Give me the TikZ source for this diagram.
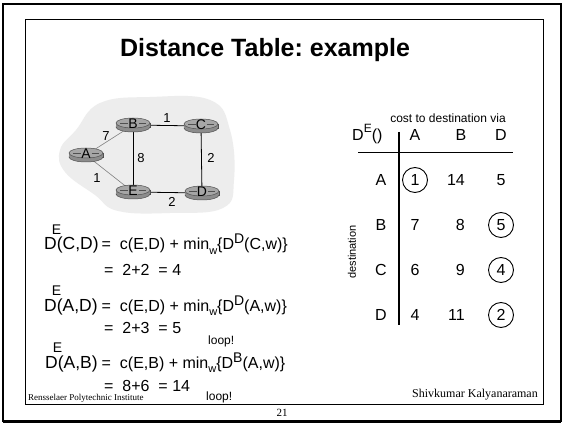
\documentclass[tikz,border=0pt]{standalone}
\usepackage{fontspec}
\setmainfont{Liberation Sans}
\newfontfamily\serifface{Liberation Serif}
\usetikzlibrary{calc}
\frenchspacing
\newcommand{\fsz}[1]{\fontsize{#1}{#1}\selectfont}
\definecolor{blobgray}{HTML}{EDEDED}
\definecolor{rtrside}{HTML}{8C8C8C}
\definecolor{rtrtop}{HTML}{A6A6A6}
\definecolor{rtredge}{HTML}{505050}
\newcommand{\drawrouter}[1]{%
  \fill[rtrside,draw=rtredge,line width=0.5pt] ($(#1)+(-17,-2)$) rectangle ($(#1)+(17,2)$);
  \fill[rtrside,draw=rtredge,line width=0.5pt] ($(#1)+(0,2)$) ellipse [x radius=17, y radius=5];
  \fill[rtrside] ($(#1)+(-16.7,-2)$) rectangle ($(#1)+(16.7,2)$);
  \fill[rtrtop,draw=rtredge,line width=0.5pt] ($(#1)+(0,-2)$) ellipse [x radius=17, y radius=5];
  \draw[rtredge,line width=0.6pt] ($(#1)+(-13,-2)$) -- ($(#1)+(-5.5,-2)$);
  \draw[rtredge,line width=0.6pt] ($(#1)+(5.5,-2)$) -- ($(#1)+(13,-2)$);
}
\begin{document}
\begin{tikzpicture}[x=1pt,y=-1pt,
  frameline/.style={line width=2pt},
  link/.style={line width=0.8pt,black},
  thinlink/.style={line width=0.6pt,gray},
  rlabel/.style={font=\fsz{14}, inner sep=0pt},
  elabel/.style={font=\fsz{13}, inner sep=0pt},
  big/.style={font=\fsz{17.5}, anchor=base west, inner sep=0pt},
  small/.style={font=\fsz{16}, anchor=base west, inner sep=0pt},
  loopnote/.style={font=\fsz{12}, anchor=base west, inner sep=0pt},
  cell/.style={font=\fsz{16}, inner sep=0pt},
  ring/.style={circle, draw, line width=0.9pt, minimum size=25pt, inner sep=0pt},
  footer/.style={font=\serifface, inner sep=0pt}
]
\useasboundingbox (0,0) rectangle (564,427);
\fill[white] (0,0) rectangle (564,427);
% frames
\draw[frameline] (3,4) rectangle (561,421);
\draw[line width=1pt] (3,422) -- (561,422);
\draw[line width=0.8pt] (25,19) rectangle (543,404);
% title
\node[font=\bfseries\fsz{25}, inner sep=0pt] (title) at (265,50) {Distance Table: example};
% network blob
\fill[blobgray] plot[smooth cycle, tension=0.7] coordinates {(100,103) (150,97) (210,100) (230,130) (234,180) (223,208) (170,213) (118,211) (95,195) (65,172) (60,150) (76,130)};
\coordinate (A) at (86,155);
\coordinate (B) at (133,125);
\coordinate (C) at (201,126);
\coordinate (E) at (133,192);
\coordinate (D) at (202,193);
\draw[thinlink] (A) -- (B);
\draw[thinlink] (A) -- (E);
\draw[link] (B) -- (C);
\draw[link] (B) -- (E);
\draw[link] (C) -- (D);
\draw[link] (E) -- (D);
\foreach \n in {A,B,C,D,E} {\drawrouter{\n}}
\node[rlabel] (lA) at ($(A)+(0,-1)$) {A};
\node[rlabel] (lB) at ($(B)+(0,-1)$) {B};
\node[rlabel] (lC) at ($(C)+(0,-1)$) {C};
\node[rlabel] (lD) at ($(D)+(0,-1)$) {D};
\node[rlabel] (lE) at ($(E)+(0,-1)$) {E};
\node[elabel] (wAB) at (106,136) {7};
\node[elabel] (wBC) at (167,118) {1};
\node[elabel] (wBE) at (141,158) {8};
\node[elabel] (wCD) at (211,158) {2};
\node[elabel] (wAE) at (97,178) {1};
\node[elabel] (wED) at (172,202) {2};
% equations
\node[big] (e1a) at (44,250) {D\rlap{\hspace{-5pt}\raisebox{15.5pt}{\fsz{14}E}}(C,D)};
\node[small] (e1b) at (101.5,250) {=\ \ c(E,D) + min\raisebox{-4.5pt}{\fsz{11}w}\{D\raisebox{6pt}{\fsz{14}D}(C,w)\}};
\node[small] (e1c) at (104,276) {=\ \ 2+2\ \ = 4};
\node[big] (e2a) at (44,311) {D\rlap{\hspace{-5pt}\raisebox{15.5pt}{\fsz{14}E}}(A,D)};
\node[small] (e2b) at (101.5,311) {=\ \ c(E,D) + min\raisebox{-4.5pt}{\fsz{11}w}\{D\raisebox{6pt}{\fsz{14}D}(A,w)\}};
\node[small] (e2c) at (104,333) {=\ \ 2+3\ \ = 5};
\node[loopnote] (loop1) at (208,344) {loop!};
\node[big] (e3a) at (45,368) {D\rlap{\hspace{-5pt}\raisebox{15.5pt}{\fsz{14}E}}(A,B)};
\node[small] (e3b) at (101.5,368) {=\ \ c(E,B) + min\raisebox{-4.5pt}{\fsz{11}w}\{D\raisebox{6pt}{\fsz{14}B}(A,w)\}};
\node[small] (e3c) at (104,391) {=\ \ 8+6\ \ = 14};
\node[loopnote] (loop2) at (206,400) {loop!};
% table
\node[font=\fsz{12}, inner sep=0pt] (costvia) at (448,118) {cost to destination via};
\node[font=\fsz{16}, anchor=base west, inner sep=0pt] (DE) at (352,141) {D\raisebox{8pt}{\fsz{12}E}()};
\coordinate (vtop) at (399,132);
\coordinate (vbot) at (399,325);
\coordinate (hl) at (358,153);
\coordinate (hr) at (513,153);
\draw[line width=1.6pt] (vtop) -- (vbot);
\draw[line width=1pt] (hl) -- (hr);
\node[cell] (hA) at (415,135) {A};
\node[cell] (hB) at (461,135) {B};
\node[cell] (hD) at (501,135) {D};
\node[font=\fsz{11}, rotate=90, inner sep=0pt] (dest) at (352,252) {destination};
\node[cell] (rA) at (381,180) {A};
\node[cell] (rB) at (381,225) {B};
\node[cell] (rC) at (381,270) {C};
\node[cell] (rD) at (381,315) {D};
% column A
\node[cell] (aA) at (415,180) {1};
\node[cell] (aB) at (415,225) {7};
\node[cell] (aC) at (415,270) {6};
\node[cell] (aD) at (415,315) {4};
% column B (right aligned)
\node[cell, anchor=east] (bA) at (465,180) {14};
\node[cell, anchor=east] (bB) at (465,225) {8};
\node[cell, anchor=east] (bC) at (465,270) {9};
\node[cell, anchor=east] (bD) at (465,315) {11};
% column D
\node[cell] (dA) at (501,180) {5};
\node[cell] (dB) at (501,225) {5};
\node[cell] (dC) at (501,270) {4};
\node[cell] (dD) at (501,315) {2};
\node[ring] (cA) at (aA) {};
\node[ring] (cB) at (dB) {};
\node[ring] (cC) at (dC) {};
\node[ring] (cD) at (dD) {};
% footer
\node[footer, font=\serifface\fsz{9}, anchor=base west] (rpi) at (28,400) {Rensselaer Polytechnic Institute};
\node[footer, font=\serifface\fsz{12}, anchor=base east] (author) at (538,397) {Shivkumar Kalyanaraman};
\node[footer, font=\serifface\fsz{11}] (pagenum) at (282,413) {21};
\end{tikzpicture}
\end{document}
